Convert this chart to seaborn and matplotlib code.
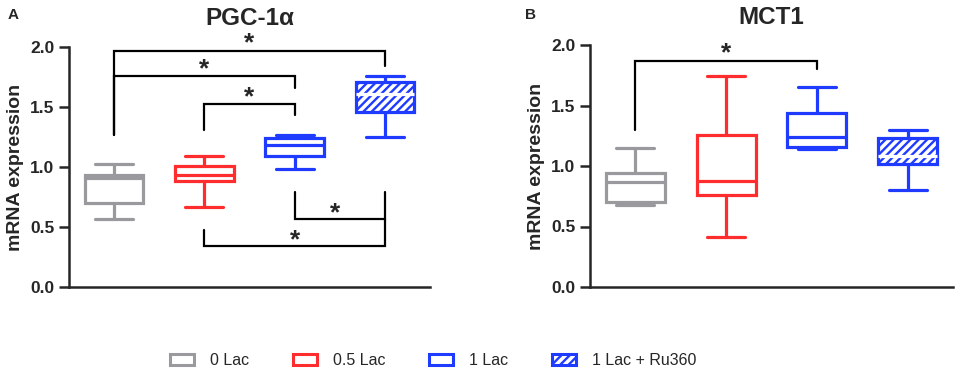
import numpy as np
import pandas as pd
import seaborn as sns
import matplotlib.pyplot as plt
from matplotlib.patches import Patch

# groups and colours
groups = ['0 Lac', '0.5 Lac', '1 Lac', '1 Lac + Ru360']
colors = ['#9a9a9e', '#ff2d2d', '#1f3bff', '#1f3bff']

# box summaries: min, q1, median, q3, max
pgc_min = [0.57, 0.67, 0.98, 1.25]
pgc_q1 = [0.70, 0.88, 1.09, 1.455]
pgc_med = [0.91, 0.935, 1.18, 1.61]
pgc_q3 = [0.93, 1.01, 1.245, 1.71]
pgc_max = [1.025, 1.094, 1.27, 1.76]

mct_min = [0.68, 0.41, 1.14, 0.80]
mct_q1 = [0.70, 0.76, 1.16, 1.02]
mct_med = [0.87, 0.88, 1.24, 1.085]
mct_q3 = [0.94, 1.26, 1.44, 1.23]
mct_max = [1.15, 1.74, 1.65, 1.30]

# significance brackets: (left group, right group, bar height, left leg end, right leg end)
pgc_brackets = [(0, 3, 1.97, 1.27, 1.84),
                (0, 2, 1.76, 1.27, 1.66),
                (1, 2, 1.525, 1.31, 1.43),
                (2, 3, 0.567, 0.79, 0.79),
                (1, 3, 0.344, 0.475, 0.567)]
pgc_stars = [(1.5, 2.03), (1.0, 1.81), (1.5, 1.58), (2.45, 0.61), (2.0, 0.385)]
mct_brackets = [(0, 2, 1.87, 1.30, 1.80)]
mct_stars = [(1.0, 1.93)]

sns.set_style('ticks')
plt.rcParams['font.family'] = ['Liberation Sans', 'DejaVu Sans']
plt.rcParams['hatch.linewidth'] = 1.7


def long_table(mins, q1s, meds, q3s, maxs):
    rows = []
    for g, a, b, c, d, e in zip(groups, mins, q1s, meds, q3s, maxs):
        for v in (a, b, c, d, e):
            rows.append({'group': g, 'value': v})
    return pd.DataFrame(rows)


def draw_panel(ax, df, title, brackets, stars, pad):
    for i, g in enumerate(groups):
        sub = df[df['group'] == g]
        hatched = i == 3
        sns.boxplot(data=sub, x='group', y='value', order=groups,
                    color='white', linecolor=colors[i], saturation=1,
                    width=0.65, whis=(0, 100), linewidth=2.3, ax=ax,
                    medianprops={'color': 'white' if hatched else colors[i],
                                 'linewidth': 2.3})
    # last box patch gets the stripes
    box = ax.patches[-1]
    box.set_hatch('////')
    box.set_facecolor('white')
    box.set_edgecolor(colors[3])

    # wider whisker caps
    for ln in ax.lines:
        xs, ys = ln.get_xdata(), ln.get_ydata()
        if len(xs) == 2 and ys[0] == ys[1] and abs(xs[1] - xs[0]) < 0.5:
            c = (xs[0] + xs[1]) / 2
            ln.set_xdata([c - 0.21, c + 0.21])

    for l, r, h, le, re in brackets:
        ax.plot([l, l, r, r], [le, h, h, re], color='black', lw=1.6,
                clip_on=False, solid_joinstyle='miter')
    for x, y in stars:
        ax.text(x, y, '*', ha='center', va='center', fontsize=19,
                fontweight='bold', clip_on=False)

    ax.set_xlim(-0.5, 3.5)
    ax.set_ylim(0, 2.0)
    ax.set_yticks([0, 0.5, 1.0, 1.5, 2.0])
    ax.set_yticklabels(['0.0', '0.5', '1.0', '1.5', '2.0'])
    ax.set_xticks([])
    ax.set_xlabel('')
    ax.set_ylabel('mRNA expression', fontsize=14, fontweight='bold', labelpad=4)
    ax.tick_params(axis='y', length=7, width=1.8, labelsize=12.5)
    for t in ax.get_yticklabels():
        t.set_fontweight('bold')
    sns.despine(ax=ax)
    for s in ('left', 'bottom'):
        ax.spines[s].set_linewidth(1.8)
    ax.set_title(title, fontsize=17.5, fontweight='bold', pad=pad)


fig = plt.figure(figsize=(9.57, 3.72), dpi=100)
ax1 = fig.add_axes([69 / 957, 85 / 372, 361 / 957, 240 / 372])
ax2 = fig.add_axes([590 / 957, 85 / 372, 363 / 957, 242 / 372])

draw_panel(ax1, long_table(pgc_min, pgc_q1, pgc_med, pgc_q3, pgc_max),
           'PGC-1α', pgc_brackets, pgc_stars, 16)
draw_panel(ax2, long_table(mct_min, mct_q1, mct_med, mct_q3, mct_max),
           'MCT1', mct_brackets, mct_stars, 15)

fig.text(0.008, 0.96, 'A', fontsize=11, fontweight='bold', va='center')
fig.text(0.549, 0.96, 'B', fontsize=11, fontweight='bold', va='center')

handles = []
for i, g in enumerate(groups):
    handles.append(Patch(facecolor='white', edgecolor=colors[i], linewidth=2.2,
                         hatch='////' if i == 3 else None, label=g))
fig.legend(handles=handles, loc='center', bbox_to_anchor=(0.4525, 0.03), ncol=4,
           frameon=False, fontsize=11.5, handlelength=1.5, handleheight=0.65,
           handletextpad=1.0, columnspacing=2.75)

fig.savefig('out.png', dpi=100)
